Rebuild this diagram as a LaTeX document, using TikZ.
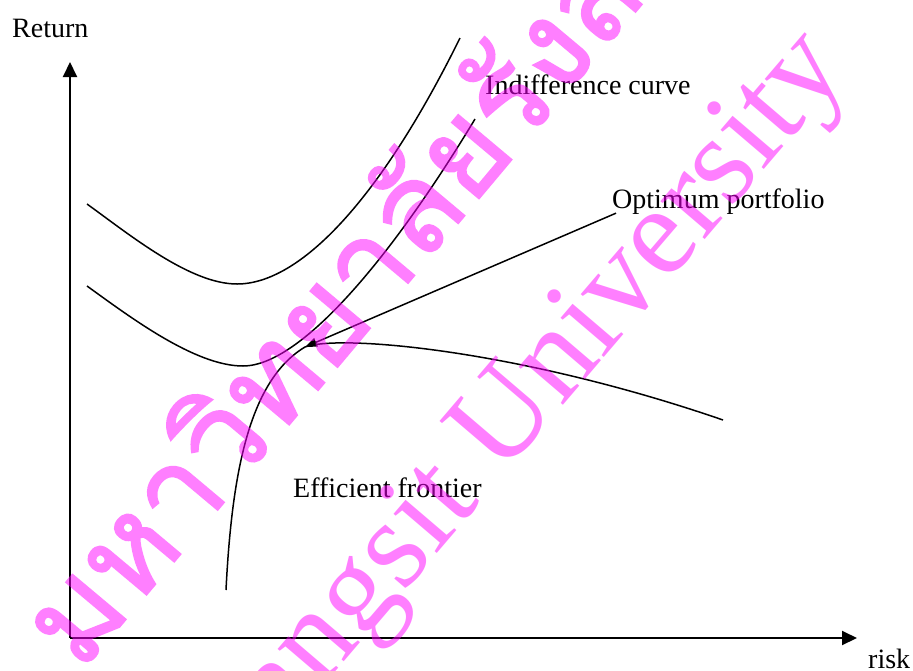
\documentclass[tikz,border=0pt]{standalone}
\usepackage{fontspec}
\setmainfont{Liberation Serif}
\newfontfamily\thaifont[Script=Thai,FakeBold=1.5]{Loma}
\usetikzlibrary{arrows.meta}
\definecolor{wmpink}{RGB}{255,0,255}

\begin{document}
\begin{tikzpicture}[x=1pt,y=-1pt,
  lbl/.style={inner sep=0pt, anchor=base west, font=\fontsize{28}{34}\selectfont},
  curve/.style={line width=1.5pt},
  wm/.style={text=wmpink, inner sep=0pt}]
\useasboundingbox (0,0) rectangle (913,670);

% Axes
\coordinate (origin) at (70,638);
\coordinate (ytop) at (70,62);
\coordinate (xend) at (857,638);
\draw[line width=2pt, -{Triangle[length=15pt,width=14pt]}] (origin) -- (ytop);
\draw[line width=2pt, -{Triangle[length=15pt,width=14pt]}] (origin) -- (xend);
\node[lbl] (ret) at (12,37) {Return};
\node[lbl] (risk) at (868,668) {risk};

% Indifference curves
\draw[curve] (87,204) .. controls (130,235) and (190,284) .. (237,284)
  .. controls (300,284) and (380,200) .. (460,38);
\draw[curve] (87,286) .. controls (130,317) and (195,366) .. (243,366)
  .. controls (300,366) and (390,260) .. (475,119);
\node[lbl] (indiff) at (485,94) {Indifference curve};

% Efficient frontier
\coordinate (opt) at (305,347);
\draw[curve] (226,590) .. controls (232,470) and (250,380) .. (opt)
  .. controls (340,334) and (520,350) .. (723,420);
\node[lbl] (eff) at (293,497) {Efficient frontier};

% Optimum portfolio
\node[lbl] (optlbl) at (612,208) {Optimum portfolio};
\draw[curve, -{Triangle[length=12pt,width=9pt]}] (optlbl.south west) ++(4,-1) -- (opt);

% Watermark
\begin{scope}[transparency group, opacity=0.5]
\node[wm, rotate=50, font=\thaifont\fontsize{125}{125}\selectfont] (thai) at (353,271) {มหาวิทยาลัยรังสิต};
\node[wm, rotate=49.5, font=\fontsize{127}{127}\selectfont] (rsu) at (518,415) {Rangsit University};
\end{scope}
\end{tikzpicture}
\end{document}
